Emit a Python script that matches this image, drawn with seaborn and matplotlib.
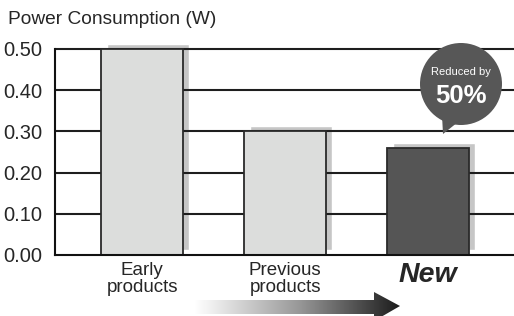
import numpy as np
import matplotlib
matplotlib.use("Agg")
import matplotlib.pyplot as plt
import seaborn as sns
from matplotlib.patches import Circle, Polygon
from matplotlib.colors import LinearSegmentedColormap

# data
categories = ["Early\nproducts", "Previous\nproducts", "New"]
power_w = [0.50, 0.30, 0.26]
bar_colors = ["#dcdddc", "#dcdddc", "#555555"]
y_ticks = [0.0, 0.1, 0.2, 0.3, 0.4, 0.5]
y_tick_labels = ["0.00", "0.10", "0.20", "0.30", "0.40", "0.50"]

sns.set_style("white")
plt.rcParams["font.family"] = ["Liberation Sans", "DejaVu Sans"]

fig = plt.figure(figsize=(5.14, 3.16), dpi=100)
ax = fig.add_axes([55 / 514, 61 / 316, 459 / 514, 206 / 316])

x = np.arange(len(categories))
w = 0.57

# drop shadows behind the bars
ax.bar(x + 0.042, power_w, width=w, bottom=0.012, color="#c6c6c6",
       zorder=1, clip_on=False)

sns.barplot(x=x, y=power_w, hue=x, palette=bar_colors, legend=False,
            width=w, edgecolor="#2a2a2a", linewidth=1.3, ax=ax, zorder=3)
for p in ax.patches:
    p.set_clip_on(False)

ax.set_xlim(-0.61, 2.6)
ax.set_ylim(0, 0.5)
ax.set_yticks(y_ticks)
ax.set_yticklabels(y_tick_labels, fontsize=14.5)
for yv in y_ticks[1:]:
    ax.axhline(yv, color="#1e1e1e", lw=1.5, zorder=2, clip_on=False)

ax.set_xticks(x)
ax.set_xticklabels(categories, fontsize=13.5, linespacing=1.0)
new_lbl = ax.get_xticklabels()[2]
new_lbl.set_fontsize(20.5)
new_lbl.set_fontweight("bold")
new_lbl.set_fontstyle("italic")
ax.tick_params(axis="x", length=0, pad=5)
ax.tick_params(axis="y", length=0, pad=9)
ax.set_xlabel("")
ax.set_ylabel("")

for s in ["top", "right"]:
    ax.spines[s].set_visible(False)
for s in ["left", "bottom"]:
    ax.spines[s].set_color("#111111")
    ax.spines[s].set_linewidth(1.5)
    ax.spines[s].set_zorder(4)

# overlay in pixel coordinates for decorations
ov = fig.add_axes([0, 0, 1, 1], zorder=5)
ov.set_xlim(0, 514)
ov.set_ylim(316, 0)
ov.axis("off")
ov.patch.set_alpha(0)

ov.text(8, 20, "Power Consumption (W)", fontsize=13.8, va="center", ha="left")

# speech bubble
ov.add_patch(Circle((461, 84), 41, color="#575757", lw=0))
ov.add_patch(Polygon([(442, 115), (458, 122), (443, 134)], color="#575757", lw=0))
ov.text(461, 72, "Reduced by", color="white", fontsize=8, ha="center", va="center")
ov.text(461, 96, "50%", color="white", fontsize=18.5, fontweight="bold",
        ha="center", va="center")

# gradient arrow
arrow = Polygon([(195, 300), (374, 300), (374, 292), (400, 306), (374, 321),
                 (374, 314), (195, 314)], closed=True, facecolor="none",
                edgecolor="none")
ov.add_patch(arrow)
cmap = LinearSegmentedColormap.from_list("g", ["#ffffff", "#9a9a9a", "#1c1c1c"])
grad = np.linspace(0, 1, 256).reshape(1, -1)
im = ov.imshow(grad, cmap=cmap, extent=(195, 400, 322, 290), aspect="auto")
im.set_clip_path(arrow)
ov.set_xlim(0, 514)
ov.set_ylim(316, 0)

fig.savefig("out.png", dpi=100)
